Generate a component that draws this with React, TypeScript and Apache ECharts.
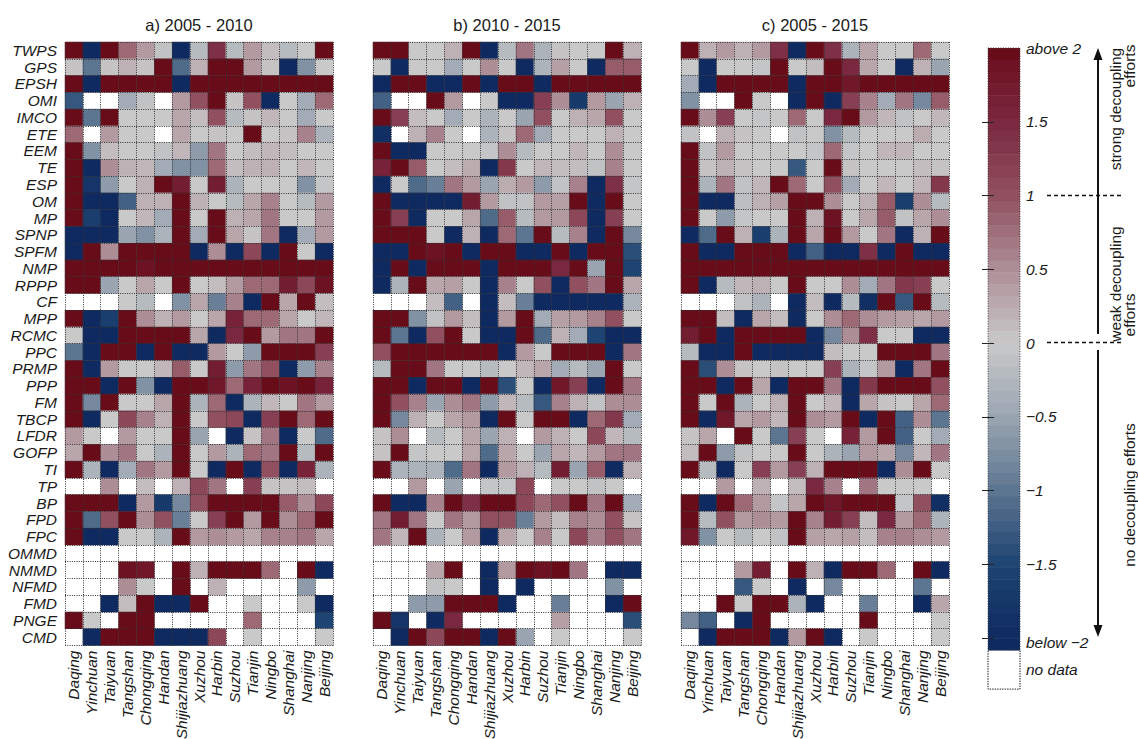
import React, { useEffect, useRef } from "react";
import * as echarts from "echarts";

const N = null;
const cities = ["Daqing","Yinchuan","Taiyuan","Tangshan","Chongqing","Handan","Shijiazhuang","Xuzhou","Harbin","Suzhou","Tianjin","Ningbo","Shanghai","Nanjing","Beijing"];
const factors = ["TWPS","GPS","EPSH","OMI","IMCO","ETE","EEM","TE","ESP","OM","MP","SPNP","SPFM","NMP","RPPP","CF","MPP","RCMC","PPC","PRMP","PPP","FM","TBCP","LFDR","GOFP","TI","TP","BP","FPD","FPC","OMMD","NMMD","NFMD","FMD","PNGE","CMD"];
const panelTitles = ["a) 2005 - 2010","b) 2010 - 2015","c) 2005 - 2015"];

const panelA = [
[2,-2,2,0.8,0.4,-0.1,-2,-0.2,1.4,-0.2,0.4,0.1,-0.2,0,2],
[0.05,-1,0.05,0.2,0.05,2,-1.1,0.2,2,2,0.4,0.05,-2,-0.7,0],
[2,-2,2,2,2,2,-2,2,2,2,2,2,2,2,2],
[-1.3,N,N,-0.4,-0.1,N,0.4,1,2,0.05,1,-2,0,-0.4,0.8],
[2,-1,2,0,0,0,0.3,0.1,1,-0.2,0.05,0.15,0,-0.4,0],
[0.8,N,0.4,0,0,N,0.3,0,0.05,0,2,0,0.05,0.6,-0.3],
[2,-0.7,0.1,0,0,-0.1,0.15,-0.6,0.7,0,0.1,0.15,0.1,0,0],
[2,-2,0.5,0.2,0.15,-0.4,-0.7,-0.7,0.8,0.1,0.2,0.2,0,0.15,0],
[2,-1.8,-0.6,0,0.2,2,1.7,0,1.7,-0.3,0,0,0,-0.7,-0.05],
[2,-2,-2,-1.2,0.2,0.2,2,0.2,0,-0.2,0.3,0.6,0,-0.2,0.4],
[2,-1.6,-2,0,0.15,-0.4,2,0,2,0.2,0.3,0.7,0,0,0.4],
[-2,-2,-2,-0.5,-0.7,-0.3,2,-0.4,2,0.3,0.05,0.7,-2,-0.4,0.4],
[-2,2,0.5,2,2,2,2,-2,0.5,-2,1.1,-2,2,0,-2],
[2,2,2,2,1.9,2,2,2,2,2,2,2,2,2,2],
[2,2,-0.5,0,0.3,0,2,0,0.1,0.4,0.8,0.8,1.7,1.1,1.9],
[N,N,N,0,-0.2,N,-0.7,0.3,-0.9,0.6,-2,2,0.3,2,0.1],
[2,-2,-1.6,2,0.5,0.2,0.4,0,0.3,1.6,0.8,0.8,0.3,0,0.15],
[0,-2,-2,2,2,2,2,0.3,-2,1.5,2,0.4,0.7,0.7,2],
[-1,-2,2,2,-2,2,-2,-2,0.4,0,-0.6,2,2,2,1.2],
[2,-2,0.4,0,0,0.15,0.9,0,1.7,-0.6,0.7,1,-2,-0.6,0.6],
[2,2,-2,2,-0.7,-2,2,2,1.8,0.8,1.6,2,1.9,2,1.6],
[2,-0.8,2,0,0,0.3,2,-0.3,0.8,-2,-0.3,0.15,0,0.7,0.4],
[2,-2,0,1.1,0.6,0.2,2,0,1,1.1,-2,1.2,2,0.8,2],
[0.4,0,N,0.4,0,0,2,-0.5,N,-2,0.05,0.7,-2,0,-1.1],
[0.3,2,0.5,0.7,0,-0.3,2,0,0.4,-0.3,0.8,0.7,2,-0.2,2],
[2,-0.3,-2,-0.4,0.7,0.4,2,0,-2,2,-2,1,-2,1.6,-0.3],
[N,N,0.5,N,0.1,N,0.2,1.1,0.7,N,1.2,0.05,0.05,0.1,N],
[2,2,2,-2,0.4,-1.7,-0.8,1,2,2,2,2,0.9,0.5,1.1],
[2,-1.1,1,2,0.5,1,-0.9,0,1.2,2,0.4,2,0.5,0.8,2],
[2,-2,-2,0,0,-0.3,2,0.4,0.5,0.4,0.3,0.6,0.6,0.7,0.3],
[N,N,N,N,N,N,N,N,N,N,N,N,N,N,N],
[N,N,N,1.9,1.8,N,2,0.2,2,2,2,0.8,N,2,-2],
[N,N,N,0.5,0,N,2,N,0.2,N,N,N,N,-0.6,N],
[N,N,-2,0.1,2,-2,-2,2,N,N,0,N,N,0,-2],
[2,0,N,2,2,N,N,N,N,N,0.8,N,N,N,-1.5],
[N,-2,2,2,2,-2,-2,-2,1.1,N,0,N,N,N,0],
];

const panelB = [
[2,2,0,0,0.2,2,-2,-0.2,0.7,-0.3,0.05,0,0,2,0.2],
[0,-2,0,0,-0.4,0,0.5,0,-2,-0.3,0.35,0,-2,0.9,0.9],
[-2,2,2,-2,-2,2,-2,2,2,-2,2,2,2,2,2],
[-1.2,N,N,2,0.4,N,0,-2,-2,1.2,0.5,-1.7,0.4,-0.5,0.2],
[2,1.2,0.1,0,-0.4,0,-0.3,0,-0.5,1,0,0.2,0.3,1,0],
[-1.9,N,0.2,0.6,0,N,-0.3,0.05,0.8,-0.4,0,0,0,0.2,0],
[2,-2,-2,0,0,0,-0.05,0.5,-0.2,0,0,0.15,0,0.5,0],
[1.6,2,0.9,0,0.1,0.25,-2,1.3,0,0.15,0.1,0.1,-0.1,0.6,0],
[-2,0,-1.1,-0.9,0.7,0.4,-0.5,0.25,0.4,-0.6,-0.1,0.6,-2,1.4,-0.05],
[2,-2,-2,-2,-2,1.7,0.4,-0.1,-0.1,0.4,0.35,2,-2,2,0],
[2,1.2,-2,0,0,0.3,-1.1,0.9,-0.2,0.4,0.4,1.1,-2,1.2,0],
[2,2,2,0,-2,0.2,-2,0.8,-1,2,-0.2,0.6,-2,2,-0.8],
[-2,-2,2,1.9,2,-2,2,2,-2,-2,2,-2,2,2,-1.4],
[-2,2,-2,2,2,2,-2,2,2,2,1.5,2,-0.5,2,-1.5],
[-2,-0.3,2,0.3,0.35,0,-2,0.6,0,1,-2,1,0.7,2,0.3],
[N,N,N,0.1,-1.2,N,-2,0.1,-0.9,-2,-2,-2,-2,-2,-0.3],
[2,2,-0.7,-0.1,0.4,0.1,-2,0.4,2,-0.4,0.35,0.4,0.6,1,0],
[2,-1,-2,1,2,0,-2,-2,2,-1.1,0.2,-0.4,-1.5,-2,-2],
[1,2,2,2,2,2,2,-2,0.4,0,2,2,2,-2,0.7],
[-0.2,2,2,0.7,0,0,-0.2,0,0.15,0.3,-0.4,-0.2,-0.5,2,0],
[2,2,-2,2,2,-2,2,-1.4,0,-2,1.8,1.2,-2,2,0.7],
[2,1,0.6,-0.5,0.5,0.7,-0.6,0.15,-0.2,-1.3,0.6,0.2,-0.1,0.5,0.5],
[2,-0.8,0.2,0,0.3,0.4,-2,2,0,2,2,-2,0.8,1.3,-0.4],
[0.05,0.5,N,-0.2,0,0.3,-0.5,0.2,N,0.4,0.2,0,1.1,0.15,-0.2],
[0.05,2,-0.05,0,0,0.3,-1.1,0.3,0,-0.5,0.3,0.15,0.4,0.7,0.7],
[2,-0.3,-0.3,-0.3,-1.1,0.7,-2,0.4,0.2,-0.2,1.7,-0.5,0.9,-2,0.2],
[N,N,0.4,N,-0.5,N,-0.05,-0.05,1.1,N,0,0,-0.1,0,N],
[2,-2,-2,0.6,2,1.4,2,2,1.1,0.8,1,2,0.7,2,-0.4],
[0.7,1.7,0.7,0,0.7,0.4,1,1,-0.9,0.4,0.1,0.6,0.5,1,0.05],
[0.7,0.15,2,-0.3,0,0.4,-2,0.3,0,0.6,0,1.1,0.6,1,0.7],
[N,N,N,N,N,N,N,N,N,N,N,N,N,N,N],
[N,N,N,0.3,2,N,-2,0.4,2,1.9,2,0.7,N,-2,-2],
[N,N,N,-0.1,0,N,-2,N,-2,N,N,N,N,-0.7,N],
[N,N,-0.6,-0.6,2,2,2,-2,N,N,-0.9,N,N,-2,2],
[2,-1.8,N,-2,1.5,N,N,N,N,N,0.35,N,N,N,-1.4],
[N,-2,2,1.1,2,2,-2,2,-0.5,N,0,N,N,N,0],
];

const panelC = [
[2,0.2,0.4,0.2,0.4,1.4,-2,2,1.4,-0.3,0.3,0,0,0.8,0],
[0,-2,0,0,-0.05,2,0,0.1,2,1.5,0.3,0,-2,0.2,-0.5],
[-0.4,-2,2,2,2,2,-2,2,2,1.8,2,2,2,2,2],
[-0.7,N,N,2,0,N,-2,2,-2,1.2,0.6,-0.4,0.7,-0.8,0.9],
[2,0.5,1.2,0,-0.05,0,0.8,0,1.5,2,0.4,0.15,-0.1,0,0.15],
[-0.1,N,0.2,0.05,0,N,-0.1,0,-0.7,-0.2,0,0,0,0.25,0],
[2,-0.1,0.4,0,0,0,0,-0.05,0.8,-0.05,0,0.15,0.15,0,0],
[2,0.05,0.2,0.05,0,0,-1.3,0,2,0.05,0,0,0,0.1,0.05],
[2,-0.3,0.7,-0.1,0.15,2,0.8,0,1,-0.4,0,0.15,0,0.15,1.3],
[2,-2,-2,-0.15,0.2,0.35,2,2,0.5,0,0.2,0.9,-1.6,0.5,-0.2],
[2,0,-0.6,-0.05,0,0,2,0.2,1.9,0,0.3,0.9,-0.1,0.3,0.5],
[-2,-1.1,2,0.2,-1.6,-0.3,2,0.3,2,0.4,0,0.7,-2,0.2,2],
[2,-2,-2,2,2,2,-2,-1.2,-2,-2,1.4,-2,2,-2,-2],
[2,2,2,2,2,2,2,2,2,2,2,2,2,2,2],
[2,-2,-0.2,0.15,0.2,0,2,0,0,0.5,-0.4,0.7,1.3,1.2,0],
[N,N,N,-0.1,-0.3,N,-2,0.1,-2,-0.2,-1.9,2,-1.3,2,-0.2],
[2,2,0.1,-2,0.3,0.1,-2,0,0.5,0.8,0.5,0.4,0.35,0.3,0.4],
[1.7,2,-2,2,2,2,2,-2,-0.8,0.5,1.4,0,0,-2,-2],
[-0.2,-2,-2,2,-2,-2,-2,-2,0.1,0,0,2,2,2,0.7],
[2,-1.4,0.5,0.05,0,0.05,0,0,1.2,-0.3,-0.05,0.4,-2,0.7,2],
[2,2,-2,2,0.3,-2,2,2,0.7,-2,1.3,2,2,2,1],
[2,0,2,-0.3,0,0.2,2,0,0.15,-2,0.3,0.05,0,0.3,0.8],
[2,-2,1.8,0.3,0.4,0.15,2,0.5,0.4,2,-2,2,-1.2,0.5,-1],
[0.05,0.3,N,2,0,-1,1.2,0,N,1.6,0.4,2,-1.2,0,-0.4],
[0.1,2,-0.6,-0.1,0,0,2,0,-0.3,-0.5,0.4,0.3,-0.8,0.15,0.7],
[2,-0.2,-2,0,1.2,0.4,1.2,0.2,2,2,2,-2,0.5,2,0],
[N,N,0.4,N,0.2,N,0.1,1.5,0.6,N,0.7,0,0,0,N],
[2,-2,2,0.8,0.4,-0.05,0.3,2,1.8,2,2,2,-0.05,1,-1.9],
[2,-0.2,1,0.4,0.5,0.4,2,0.6,1.7,1.2,0.1,1.5,0.4,0.8,-0.3],
[1.8,-0.7,0,-0.2,0,-0.1,2,0.35,0.3,0.35,0.1,0.6,0.6,0.5,0.4],
[N,N,N,N,N,N,N,N,N,N,N,N,N,N,N],
[N,N,N,0.4,1.7,N,2,0.2,-2,2,2,0.8,N,2,-2],
[N,N,N,-1.3,0,N,-2,N,-0.8,N,N,N,N,-1,N],
[N,N,2,0,2,2,-0.3,-2,N,N,-0.9,N,N,-2,0.3],
[-0.8,-1.2,N,-2,2,N,N,N,N,N,2,N,N,N,0],
[N,-2,2,2,2,-2,0.4,2,-2,N,0,N,N,N,0],
];

const panels = [panelA, panelB, panelC];
const colorStops = ["#0f2a60","#1d4472","#5c7590","#9aa5b1","#c9c9c9","#ad8e97","#90505f","#7a2840","#690c1a"];
const colorbarEdges = [2,1.92,1.84,1.76,1.68,1.6,1.52,1.44,1.36,1.28,1.2,1.12,1.04,0.96,0.88,0.8,0.72,0.64,0.56,0.48,0.4,0.32,0.24,0.16,0.08,0,-0.08,-0.16,-0.24,-0.32,-0.4,-0.48,-0.56,-0.64,-0.72,-0.8,-0.88,-0.96,-1.04,-1.12,-1.2,-1.28,-1.36,-1.44,-1.52,-1.6,-1.68,-1.76,-1.84,-1.92,-2,-2.08];
const colorbarTicks = [-2,-1.5,-1,-0.5,0,0.5,1,1.5];
const colorbarLabels = [2,1.5,1,0.5,0,-0.5,-1,-1.5,-2.03,-2.21];
const noDataBand = [-2.08,-2.345];
const labelFor: Record<string,string> = { "2":"above 2", "-2.03":"below \u22122", "-2.21":"no data", "-0.5":"\u22120.5", "-1":"\u22121", "-1.5":"\u22121.5" };

const FONT = "'Liberation Sans', Arial, sans-serif";
const panelLefts = [65, 373, 681];
const PANEL_W = 268;
const PANEL_TOP = 42;
const PANEL_H = 603.5;

export default function App() {
  const ref = useRef<HTMLDivElement>(null);
  useEffect(() => {
    const chart = echarts.init(ref.current!, null, { renderer: "svg" });
    const grid: any[] = panelLefts.map((left) => ({ left, top: PANEL_TOP, width: PANEL_W, height: PANEL_H, outerBoundsMode: "none" }));
    grid.push({ left: 988, top: 48, width: 32, height: 664, outerBoundsMode: "none" });

    const dotted = { show: true, lineStyle: { type: [1, 1.3], color: "#333", width: 1 } };
    const xAxis: any[] = panelLefts.map((_, i) => ({
      type: "category", gridIndex: i, data: cities, position: "bottom", z: 3,
      axisLine: { show: false }, axisTick: { show: false }, splitLine: { ...dotted, interval: 0 },
      axisLabel: { interval: 0, rotate: 90, margin: 5, fontFamily: FONT, fontStyle: "italic", fontSize: 15.5, color: "#1a1a1a" },
    }));
    xAxis.push({ type: "value", gridIndex: 3, min: 0, max: 1, show: false });

    const yAxis: any[] = panelLefts.map((_, i) => ({
      type: "category", gridIndex: i, data: factors, inverse: true, z: 3,
      axisLine: { show: false }, axisTick: { show: false }, splitLine: { ...dotted, interval: 0 },
      axisLabel: { show: i === 0, interval: 0, margin: 8, fontFamily: FONT, fontStyle: "italic", fontSize: 15.5, color: "#1a1a1a" },
    }));
    yAxis.push({
      type: "value", gridIndex: 3, position: "right", min: -2.5, max: 2, z: 3,
      axisLine: { show: false }, splitLine: { show: false },
      axisTick: { show: true, inside: true, length: 6, customValues: colorbarTicks, lineStyle: { color: "#222", width: 1 } },
      axisLabel: { show: true, customValues: colorbarLabels, margin: 6, fontFamily: FONT, fontStyle: "italic", fontSize: 15.5, color: "#1a1a1a",
        formatter: (v: number) => labelFor[String(v)] ?? String(v) },
    });
    yAxis.push({
      type: "value", gridIndex: 3, position: "left", min: -2.5, max: 2, z: 3,
      axisLine: { show: false }, splitLine: { show: false }, axisLabel: { show: false },
      axisTick: { show: true, inside: true, length: 6, customValues: colorbarTicks, lineStyle: { color: "#222", width: 1 } },
    });

    const series: any[] = panels.map((rows, i) => {
      const data: number[][] = [];
      rows.forEach((row, r) => row.forEach((v, c) => { if (v !== null) data.push([c, r, v as number]); }));
      return { type: "heatmap", xAxisIndex: i, yAxisIndex: i, data, silent: true, progressive: 0, emphasis: { disabled: true } };
    });
    const bands = colorbarEdges.slice(0, -1).map((e, i) => [e, colorbarEdges[i + 1], e === 2 ? 2 : (e + colorbarEdges[i + 1]) / 2]);
    series.push({
      type: "custom", xAxisIndex: 3, yAxisIndex: 3, silent: true, data: bands, encode: { y: [0, 1] }, clip: false,
      renderItem: (_: any, api: any) => {
        const a = api.coord([0, api.value(0)]);
        const b = api.coord([1, api.value(1)]);
        return { type: "rect", shape: { x: a[0], y: a[1], width: b[0] - a[0], height: b[1] - a[1] + 0.5 }, style: { fill: api.visual("color") } };
      },
    });
    series.push({
      type: "custom", xAxisIndex: 3, yAxisIndex: 3, silent: true, data: [[noDataBand[0], noDataBand[1], colorbarEdges[0]], [colorbarEdges[0], noDataBand[1], colorbarEdges[0]]], clip: false, z: 4,
      renderItem: (p: any, api: any) => {
        const a = api.coord([0, api.value(0)]);
        const b = api.coord([1, api.value(1)]);
        return { type: "rect", shape: { x: a[0], y: a[1], width: b[0] - a[0], height: b[1] - a[1] }, style: { fill: "none", stroke: "#444", lineWidth: 1, lineDash: [1, 1.5] } };
      },
    });

    const rot = (text: string, x: number, y: number, align: string) => ({
      type: "text", x, y, rotation: Math.PI / 2, silent: true,
      style: { text, fontFamily: FONT, fontSize: 15.5, fill: "#1a1a1a", align, verticalAlign: "middle" },
    });
    const seg = (x1: number, y1: number, x2: number, y2: number, extra: any = {}) => ({
      type: "line", silent: true, shape: { x1, y1, x2, y2 }, style: { stroke: "#111", lineWidth: 1, ...extra },
    });

    chart.setOption({
      animation: false,
      backgroundColor: "#fff",
      title: panelTitles.map((text, i) => ({
        text, left: panelLefts[i] + PANEL_W / 2 - 5, top: 11, textAlign: "center",
        textStyle: { fontFamily: FONT, fontSize: 16.5, fontWeight: "normal", color: "#1a1a1a" },
      })),
      grid, xAxis, yAxis, series,
      visualMap: { show: false, min: -2, max: 2, dimension: 2, seriesIndex: [0, 1, 2, 3], inRange: { color: colorStops } },
      graphic: [
        seg(1098, 334, 1098, 55, { lineWidth: 2 }),
        seg(1098, 350, 1098, 630, { lineWidth: 2 }),
        { type: "polygon", silent: true, shape: { points: [[1098, 48], [1093.5, 60], [1102.5, 60]] }, style: { fill: "#111" } },
        { type: "polygon", silent: true, shape: { points: [[1098, 637], [1093.5, 625], [1102.5, 625]] }, style: { fill: "#111" } },
        seg(1047, 195.5, 1123, 195.5, { lineWidth: 1.3, lineDash: [4, 3] }),
        seg(1047, 342.5, 1123, 342.5, { lineWidth: 1.3, lineDash: [4, 3] }),
        rot("strong decoupling", 1115, 109, "center"),
        rot("efforts", 1129.5, 66, "center"),
        rot("weak decoupling", 1115, 284, "center"),
        rot("efforts", 1129.5, 315, "center"),
        rot("no decoupling efforts", 1129.5, 495, "center"),
      ],
    });
    return () => chart.dispose();
  }, []);
  return <div ref={ref} style={{ position: "absolute", left: 0, top: 0, width: 1138, height: 739 }} />;
}
